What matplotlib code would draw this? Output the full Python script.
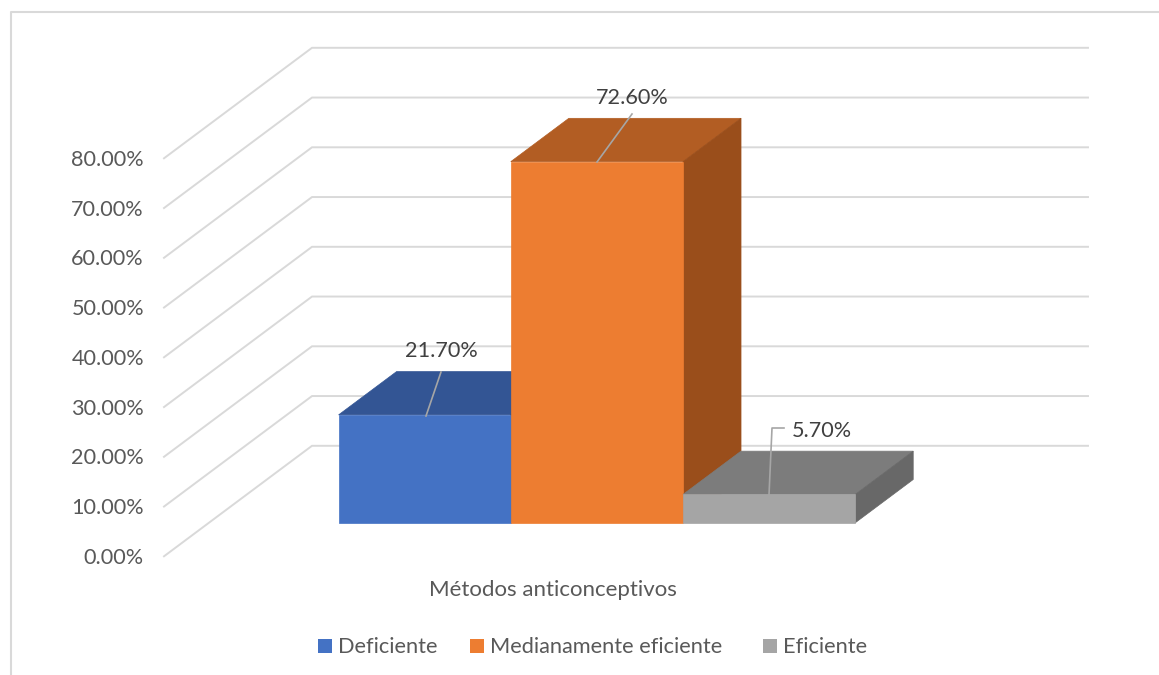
import matplotlib
matplotlib.use("Agg")
import matplotlib.pyplot as plt
from matplotlib.patches import Polygon, Rectangle

plt.rcParams['font.family'] = ['Lato', 'DejaVu Sans']

# data
series = ["Deficiente", "Medianamente eficiente", "Eficiente"]
values = [21.7, 72.6, 5.7]
ticks = [0, 10, 20, 30, 40, 50, 60, 70, 80]
category = "Métodos anticonceptivos"

front_colors = ["#4472C4", "#ED7D31", "#A5A5A5"]
top_colors = ["#335594", "#B25D23", "#7C7C7C"]
side_colors = ["#2A4679", "#9A4E1B", "#686868"]

TEXT = "#595959"
GRID = "#D9D9D9"

# scale of the 3d box, in pixels
X0, Y0 = 164, 556.3
UNIT = 4.975
DX, DY = 148, -110.5
BAR_X0 = 338.6
BAR_W = 172.2
D_FRONT = 0.303
D_BACK = 0.695


def proj(x, d, v):
    return (x + d * DX, Y0 - v * UNIT + d * DY)


def box(i, v):
    x1 = BAR_X0 + i * BAR_W - D_FRONT * DX
    x2 = x1 + BAR_W
    a = proj(x1, D_FRONT, 0)
    b = proj(x2, D_FRONT, 0)
    c = proj(x2, D_FRONT, v)
    d = proj(x1, D_FRONT, v)
    e = proj(x1, D_BACK, v)
    f = proj(x2, D_BACK, v)
    g = proj(x2, D_BACK, 0)
    ax.add_patch(Polygon([d, e, f, c], fc=top_colors[i], ec=top_colors[i], lw=0.5, zorder=3))
    ax.add_patch(Polygon([b, c, f, g], fc=side_colors[i], ec=side_colors[i], lw=0.5, zorder=3))
    ax.add_patch(Polygon([a, b, c, d], fc=front_colors[i], ec=front_colors[i], lw=0.5, zorder=3))


fig = plt.figure(figsize=(11.59, 6.75), dpi=100)
ax = fig.add_axes([0, 0, 1, 1])
ax.set_xlim(0, 1159)
ax.set_ylim(675, 0)
ax.axis('off')

# chart border, cut off at right and bottom
ax.plot([11, 11, 1159], [675, 12, 12], color=GRID, lw=1.5, zorder=1)

for t in ticks:
    p0 = proj(X0, 0, t)
    p1 = proj(X0, 1, t)
    ax.plot([p0[0], p1[0], 1088], [p0[1], p1[1], p1[1]], color=GRID, lw=1.4, zorder=1,
            solid_joinstyle='miter')
    ax.text(144, p0[1] + 1.5, "%.2f%%" % t, ha='right', va='center', fontsize=15.6, color=TEXT)

for i in range(len(values)):
    box(i, values[i])

# data labels with leader lines
leaders = [
    [(426, 416), (441, 372)],
    [(597, 162), (632, 114)],
    [(769, 495), (772, 428), (784, 428)],
]
label_pos = [(441, 351), (632, 98), (822, 431)]
for i in range(len(values)):
    xs = [p[0] for p in leaders[i]]
    ys = [p[1] for p in leaders[i]]
    ax.plot(xs, ys, color="#A6A6A6", lw=1.2, zorder=4)
    ax.text(label_pos[i][0], label_pos[i][1], "%.2f%%" % values[i], ha='center', va='center',
            fontsize=15.6, color="#404040", zorder=5)

ax.text(553, 589.5, category, ha='center', va='center', fontsize=16, color=TEXT)

# legend
legend_x = [318, 470, 763]
for i in range(len(series)):
    ax.add_patch(Rectangle((legend_x[i], 639), 14, 14, fc=front_colors[i], ec='none'))
    ax.text(legend_x[i] + 20, 647, series[i], ha='left', va='center', fontsize=15.7, color=TEXT)

fig.savefig("out.png", dpi=100)
